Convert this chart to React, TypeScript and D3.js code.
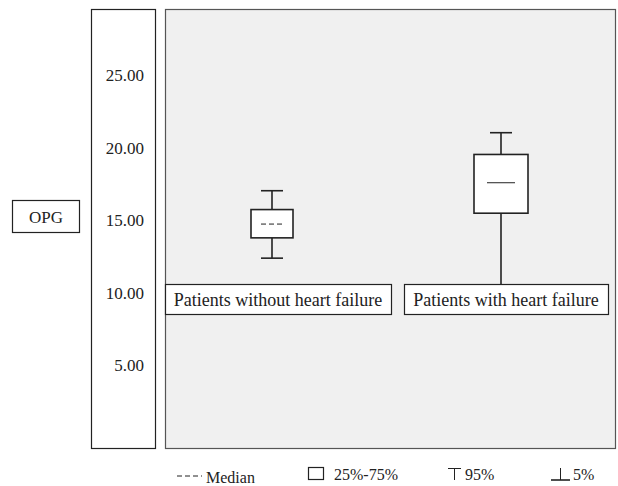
import * as d3 from "d3";

// data
const groups = ["Patients without heart failure", "Patients with heart failure"];
const p5 = [12.4, 9.0];
const q25 = [13.8, 15.5];
const median = [14.75, 17.6];
const q75 = [15.75, 19.55];
const p95 = [17.05, 21.05];
const yTicks = [5, 10, 15, 20, 25];
const legendItems = ["Median", "25%-75%", "95%", "5%"];

const W = 618;
const H = 486;
const font = "Tinos, Liberation Serif, Times New Roman, serif";
const ink = "#222";

export default function App() {
  const plot = { left: 165, right: 615, top: 9, bottom: 448 };
  const y = d3.scaleLinear().domain([0, 30.2]).range([438, 0]);
  const x = d3.scalePoint<string>().domain(groups).range([272, 501]);
  const xc = (g: string) => x(g) ?? 0;
  const boxW = [42, 54];
  const capW = 22;
  const labels = [
    { x0: 165, x1: 391 },
    { x0: 404, x1: 608 },
  ];
  const ly = 477;

  return (
    <svg width={W} height={H} style={{ position: "absolute", left: 0, top: 0 }}>
      <rect width={W} height={H} fill="#fff" />
      {/* y axis panel */}
      <rect x={91.5} y={9.5} width={64} height={439} fill="#fff" stroke={ink} strokeWidth={1.2} />
      {yTicks.map((t) => (
        <text key={t} x={144} y={y(t)} dy="0.35em" textAnchor="end" fontSize={17} fontFamily={font} fill={ink}>
          {t.toFixed(2)}
        </text>
      ))}
      {/* axis title */}
      <rect x={12.5} y={200.5} width={67} height={32} fill="#fff" stroke={ink} strokeWidth={1.2} />
      <text x={46} y={217} dy="0.35em" textAnchor="middle" fontSize={17} fontFamily={font} fill={ink}>OPG</text>

      {/* plot area */}
      <rect x={plot.left + 0.5} y={plot.top + 0.5} width={plot.right - plot.left} height={plot.bottom - plot.top}
        fill="#f0f0f0" stroke="#555" strokeWidth={1.2} />

      {groups.map((g, i) => {
        const cx = xc(g);
        const bw = boxW[i];
        return (
          <g key={g} stroke={ink} strokeWidth={1.6}>
            <line x1={cx} x2={cx} y1={y(p95[i])} y2={y(q75[i])} />
            <line x1={cx} x2={cx} y1={y(q25[i])} y2={y(p5[i])} />
            <line x1={cx - capW / 2} x2={cx + capW / 2} y1={y(p95[i])} y2={y(p95[i])} />
            {i === 0 && <line x1={cx - capW / 2} x2={cx + capW / 2} y1={y(p5[i])} y2={y(p5[i])} />}
            <rect x={cx - bw / 2} y={y(q75[i])} width={bw} height={y(q25[i]) - y(q75[i])} fill="#fff" />
            <line x1={cx - (i === 0 ? 11 : 14)} x2={cx + (i === 0 ? 11 : 14)} y1={y(median[i])} y2={y(median[i])}
              strokeWidth={1} strokeDasharray={i === 0 ? "5,3" : undefined} />
          </g>
        );
      })}

      {groups.map((g, i) => (
        <g key={"l" + g}>
          <rect x={labels[i].x0 + 0.5} y={284.5} width={labels[i].x1 - labels[i].x0} height={30}
            fill="#fff" stroke={ink} strokeWidth={1.2} />
          <text x={(labels[i].x0 + labels[i].x1) / 2} y={300} dy="0.35em" textAnchor="middle" fontSize={18}
            fontFamily={font} fill={ink}>
            {g}
          </text>
        </g>
      ))}

      {/* legend */}
      <g fontSize={16} fontFamily={font} fill={ink}>
        <line x1={177} x2={202} y1={476} y2={476} stroke={ink} strokeWidth={1} strokeDasharray="5,3" />
        <text x={206} y={ly} dy="0.35em" fontFamily={font}>{legendItems[0]}</text>
        <rect x={308.5} y={467.5} width={15} height={12} fill="#fff" stroke={ink} strokeWidth={1.2} />
        <text x={334} y={ly - 3} dy="0.35em" fontFamily={font}>{legendItems[1]}</text>
        <line x1={448} x2={461} y1={468.5} y2={468.5} stroke={ink} strokeWidth={1} />
        <line x1={454.5} x2={454.5} y1={468.5} y2={480} stroke={ink} strokeWidth={1} />
        <text x={465} y={ly - 3} dy="0.35em" fontFamily={font}>{legendItems[2]}</text>
        <line x1={551} x2={570} y1={480} y2={480} stroke={ink} strokeWidth={1.6} />
        <line x1={560.5} x2={560.5} y1={468} y2={480} stroke={ink} strokeWidth={1} />
        <text x={573} y={ly - 3} dy="0.35em" fontFamily={font}>{legendItems[3]}</text>
      </g>
    </svg>
  );
}
